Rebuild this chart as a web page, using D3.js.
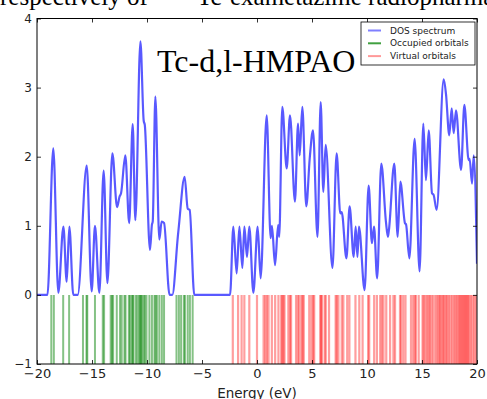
<!DOCTYPE html>
<html>
<head>
<meta charset="utf-8">
<script src="https://cdn.jsdelivr.net/npm/d3@7"></script>
<style>
  html, body { margin: 0; padding: 0; background: #fff; }
  svg { display: block; }
</style>
</head>
<body>
<svg id="chart" width="487" height="399"></svg>
<script>
// ---- DATA ----
const xTicks = [-20, -15, -10, -5, 0, 5, 10, 15, 20];
const yTicks = [-1, 0, 1, 2, 3, 4];
const legendLabels = ["DOS spectrum", "Occupied orbitals", "Virtual orbitals"];
const titleText = "Tc-d,l-HMPAO";
const xLabel = "Energy (eV)";

// DOS spectrum: [energy (eV), value]
const dosEnergy = [
  -20.0, -19.05, -18.52, -18.06, -17.6, -17.3, -17.06, -16.7, -16.3, -15.48,
  -15.03, -14.73, -14.33, -13.94, -13.6, -13.15, -12.72, -12.5, -12.36, -11.97,
  -11.62, -11.3, -11.06, -10.6, -10.3, -10.2, -9.73, -9.55, -9.48, -9.24,
  -8.88, -8.67, -8.45, -7.95, -7.7, -7.2, -7.1, -6.58, -6.3, -6.12,
  -5.7, -2.45, -2.15, -1.85, -1.6, -1.33, -1.15, -0.91, -0.7, -0.33,
  0.06, 0.33, 0.88, 1.24, 1.36, 1.64, 1.92, 2.02, 2.3, 2.7,
  3.0, 3.45, 3.73, 3.88, 4.12, 4.48, 4.79, 5.09, 5.5, 5.79,
  6.03, 6.24, 6.86, 7.24, 7.57, 7.7, 8.13, 8.42, 8.79, 8.97,
  9.13, 9.27, 9.78, 10.15, 10.45, 10.64, 10.92, 11.3, 11.72, 11.9,
  12.0, 12.48, 12.79, 13.03, 13.45, 13.55, 13.85, 14.33, 14.78, 15.12,
  15.36, 15.61, 15.91, 16.05, 16.33, 16.97, 17.18, 17.48, 17.7, 17.88,
  18.09, 18.55, 18.85, 19.24, 19.33, 19.55, 19.7, 20.0
];
const dosValue = [
  0, 0, 2.12, 0.03, 0.99, 0.19, 0.99, 0, 0, 1.87,
  0.05, 1.0, 0.03, 1.8, 0.17, 2.05, 1.27, 1.42, 1.47, 2.02,
  1.04, 2.47, 1.08, 3.67, 2.52, 2.46, 0.65, 1.02, 1.06, 2.87,
  0.8, 1.06, 1.04, 0, 0, 0.84, 1.0, 1.71, 1.25, 1.23,
  0, 0, 0.99, 0.31, 0.99, 0.39, 0.99, 0.55, 0.99, 0.03,
  0.99, 0.24, 2.6, 0.82, 1.0, 0.43, 1.01, 0.84, 2.72, 1.83,
  2.6, 1.35, 2.48, 2.02, 2.72, 1.28, 1.97, 2.38, 0.84, 2.79,
  1.49, 2.17, 0.39, 2.05, 1.18, 1.2, 0.53, 1.28, 0.55, 0.99,
  0.55, 0.99, 0.07, 1.58, 0.75, 0.99, 0.24, 1.9, 1.06, 0.84,
  0.95, 1.9, 0.84, 1.64, 1.04, 1.02, 0.53, 2.26, 0.34, 2.48,
  1.66, 2.38, 1.47, 1.45, 1.23, 3.12, 2.91, 2.31, 2.7, 2.34,
  2.67, 1.81, 2.75, 1.95, 1.97, 1.61, 2.02, 0.45
];

// Orbital energies (eV)
const occupiedOrbitals = [
  -18.7, -18.47, -17.62, -17.08, -15.82, -15.5, -15.43, -14.73, -14.02, -13.9,
  -13.3, -13.18, -13.08, -12.75, -12.45, -12.3, -12.05, -11.95, -11.65, -11.55,
  -11.38, -11.3, -11.22, -11.0, -10.85, -10.7, -10.62, -10.55, -10.45, -10.3,
  -10.2, -10.05, -9.78, -9.55, -9.32, -9.22, -9.1, -8.88, -8.65, -8.45,
  -7.32, -7.1, -6.9, -6.65, -6.55, -6.3, -6.1, -5.85
];
const virtualOrbitals = [
  -2.2, -1.72, -1.4, -1.15, -0.7, 0.0, 0.6, 0.75, 0.9, 1.05,
  1.35, 1.65, 1.95, 2.2, 2.3, 2.4, 2.5, 2.85, 3.0, 3.1,
  3.55, 3.72, 3.85, 4.05, 4.15, 4.25, 4.75, 4.95, 5.1, 5.2,
  5.75, 5.82, 5.9, 6.15, 6.25, 6.55, 7.15, 7.25, 7.4, 7.7, 7.85,
  8.2, 8.4, 8.95, 9.3, 9.6, 10.1, 10.2, 10.65, 10.9, 11.2, 11.35, 11.5, 11.75,
  12.1, 12.4, 12.55, 13.0, 13.1, 13.3, 13.5, 14.0, 14.2, 14.35, 14.45, 14.7, 15.05,
  15.15, 15.3, 15.45, 15.6, 15.7, 15.85, 16.0, 16.2, 16.35, 16.5, 16.6, 16.7, 16.85, 16.95,
  17.05, 17.2, 17.3, 17.45, 17.6, 17.75, 17.9, 18.05, 18.15, 18.3, 18.4, 18.5, 18.6,
  18.7, 18.8, 18.9, 19.0, 19.1, 19.2, 19.3, 19.45, 19.6, 19.75, 19.9
];

// ---- LAYOUT ----
const svg = d3.select("#chart");
const plot = { left: 37, right: 477, top: 18.5, bottom: 364 };

const x = d3.scaleLinear().domain([-20, 20]).range([plot.left, plot.right]);
const y = d3.scaleLinear().domain([-1, 4]).range([plot.bottom, plot.top]);

// page text above (cut off at top)
const serif = "Liberation Serif, Times New Roman, serif";
svg.append("text")
  .attr("x", 0).attr("y", 5)
  .attr("font-family", serif).attr("font-size", 25).attr("fill", "#000")
  .text("respectively of");
svg.append("text")
  .attr("x", 168).attr("y", -6)
  .attr("font-family", serif).attr("font-size", 15).attr("fill", "#000")
  .text("99m");
svg.append("text")
  .attr("x", 197).attr("y", 5)
  .attr("font-family", serif).attr("font-size", 25).attr("fill", "#000")
  .text("Tc-exametazime radiopharmaceutical");

const defs = svg.append("defs");
defs.append("clipPath").attr("id", "clip")
  .append("rect")
  .attr("x", plot.left).attr("y", plot.top)
  .attr("width", plot.right - plot.left).attr("height", plot.bottom - plot.top);

const g = svg.append("g").attr("clip-path", "url(#clip)");

// orbital bars
g.selectAll("line.occ").data(occupiedOrbitals).enter().append("line")
  .attr("class", "occ")
  .attr("x1", d => x(d)).attr("x2", d => x(d))
  .attr("y1", y(0)).attr("y2", y(-1))
  .attr("stroke", "#008000").attr("stroke-opacity", 0.48).attr("stroke-width", 2);

g.selectAll("line.virt").data(virtualOrbitals).enter().append("line")
  .attr("class", "virt")
  .attr("x1", d => x(d)).attr("x2", d => x(d))
  .attr("y1", y(0)).attr("y2", y(-1))
  .attr("stroke", "#ff0000").attr("stroke-opacity", 0.38).attr("stroke-width", 2.2);

// DOS line
const dos = dosEnergy.map((e, i) => [e, dosValue[i]]);
const line = d3.line().x(d => x(d[0])).y(d => y(d[1])).curve(d3.curveMonotoneX);
g.append("path").datum(dos)
  .attr("d", line)
  .attr("fill", "none")
  .attr("stroke", "#0000ff").attr("stroke-opacity", 0.65)
  .attr("stroke-width", 2.2).attr("stroke-linejoin", "round");

// axes
const fontTick = "DejaVu Sans, Verdana, sans-serif";
function styleAxis(sel, showLabels, size) {
  sel.select(".domain").remove();
  sel.selectAll(".tick line").attr("stroke", "#000").attr("stroke-width", 0.8);
  sel.selectAll(".tick text")
    .attr("font-family", fontTick).attr("font-size", size).attr("fill", "#222");
  if (!showLabels) sel.selectAll(".tick text").remove();
}
const fmt = d3.format("d");
svg.append("g").attr("transform", `translate(0,${plot.bottom})`)
  .call(d3.axisBottom(x).tickValues(xTicks).tickFormat(fmt).tickSizeInner(-4).tickSizeOuter(0).tickPadding(5))
  .call(s => styleAxis(s, true, 13));
svg.append("g").attr("transform", `translate(0,${plot.top})`)
  .call(d3.axisTop(x).tickValues(xTicks).tickSizeInner(-4).tickSizeOuter(0))
  .call(s => styleAxis(s, false, 13));
svg.append("g").attr("transform", `translate(${plot.left},0)`)
  .call(d3.axisLeft(y).tickValues(yTicks).tickFormat(fmt).tickSizeInner(-4).tickSizeOuter(0).tickPadding(5))
  .call(s => styleAxis(s, true, 12));
svg.append("g").attr("transform", `translate(${plot.right},0)`)
  .call(d3.axisRight(y).tickValues(yTicks).tickSizeInner(-4).tickSizeOuter(0))
  .call(s => styleAxis(s, false, 12));

// frame
svg.append("rect")
  .attr("x", plot.left).attr("y", plot.top)
  .attr("width", plot.right - plot.left).attr("height", plot.bottom - plot.top)
  .attr("fill", "none").attr("stroke", "#000").attr("stroke-width", 1);

// x label
svg.append("text")
  .attr("x", (plot.left + plot.right) / 2).attr("y", 398)
  .attr("text-anchor", "middle")
  .attr("font-family", fontTick).attr("font-size", 13.5).attr("fill", "#222")
  .text(xLabel);

// title inside plot
svg.append("text")
  .attr("x", 157).attr("y", 72)
  .attr("font-family", serif).attr("font-size", 32).attr("fill", "#000")
  .text(titleText);

// legend
const lg = svg.append("g");
lg.append("rect")
  .attr("x", 361).attr("y", 22).attr("width", 114).attr("height", 43)
  .attr("fill", "#fff").attr("stroke", "#000").attr("stroke-width", 0.8);
const legendColors = ["#0000ff", "#008000", "#ff0000"];
const legendOpac = [0.5, 0.75, 0.4];
legendLabels.forEach((lab, i) => {
  const yy = 30.5 + i * 12.8;
  lg.append("line")
    .attr("x1", 368).attr("x2", 381).attr("y1", yy).attr("y2", yy)
    .attr("stroke", legendColors[i]).attr("stroke-opacity", legendOpac[i]).attr("stroke-width", 2);
  lg.append("text")
    .attr("x", 390).attr("y", yy).attr("dy", "0.35em")
    .attr("font-family", fontTick).attr("font-size", 9).attr("fill", "#222")
    .text(lab);
});
</script>
</body>
</html>
